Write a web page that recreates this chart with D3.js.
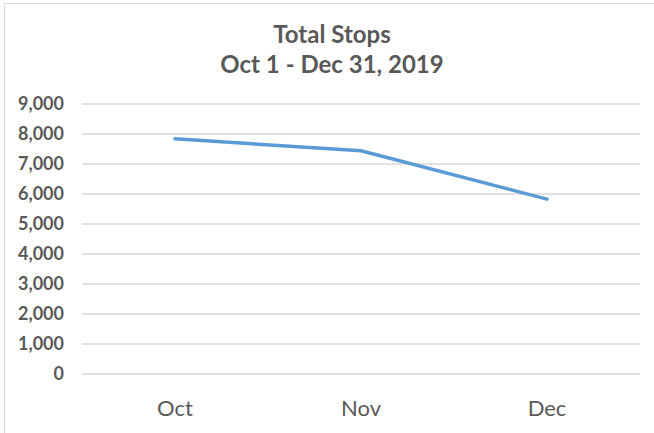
<!DOCTYPE html>
<html>
<head>
<meta charset="utf-8">
<script src="https://cdn.jsdelivr.net/npm/d3@7"></script>
<style>
  body { margin: 0; background: #fff; }
  svg { font-family: Lato, "Open Sans", sans-serif; }
</style>
</head>
<body>
<div id="chart"></div>
<script>
    const width = 654, height = 433;

    // data
    const months = ["Oct", "Nov", "Dec"];
    const stops = [7840, 7440, 5830];
    const yTicks = [0, 1000, 2000, 3000, 4000, 5000, 6000, 7000, 8000, 9000];
    const titleLines = ["Total Stops", "Oct 1 - Dec 31, 2019"];

    let svg = d3.select("#chart").append("svg")
        .attr("width", width)
        .attr("height", height);

    // chart frame (only top and left edges show in the picture)
    svg.append("path")
        .attr("d", "M4.5,433V3.5H654")
        .attr("fill", "none")
        .attr("stroke", "#d9d9d9");

    let x = d3.scaleBand()
        .domain(months)
        .range([82, 640]);

    let y = d3.scaleLinear()
        .domain([0, 9000])
        .range([374, 104]);

    // gridlines
    svg.append("g")
        .selectAll("line")
        .data(yTicks)
        .enter()
        .append("line")
        .attr("x1", 82).attr("x2", 640)
        .attr("y1", d => y(d)).attr("y2", d => y(d))
        .attr("stroke", "#d9d9d9")
        .attr("stroke-width", 1.3);

    // y axis labels
    let yAxis = svg.append("g")
        .attr("transform", "translate(70,0)")
        .call(d3.axisLeft(y).tickValues(yTicks).tickFormat(d3.format(",")).tickSize(0).tickPadding(6));
    yAxis.select(".domain").remove();
    yAxis.selectAll("text")
        .attr("fill", "#595959")
        .attr("font-size", 18)
        .attr("font-weight", "bold")
        .attr("font-family", "Lato, sans-serif");

    // x axis labels
    let xAxis = svg.append("g")
        .attr("transform", "translate(0,400)")
        .call(d3.axisBottom(x).tickSize(0).tickPadding(0));
    xAxis.select(".domain").remove();
    xAxis.selectAll("text")
        .attr("fill", "#595959")
        .attr("font-size", 22)
        .attr("font-family", "Lato, sans-serif");

    // line
    let line = d3.line()
        .x((d, i) => x(months[i]) + x.bandwidth() / 2)
        .y(d => y(d));

    svg.append("path")
        .datum(stops)
        .attr("d", line)
        .attr("fill", "none")
        .attr("stroke", "#5b9bd5")
        .attr("stroke-width", 3.5)
        .attr("stroke-linecap", "round")
        .attr("stroke-linejoin", "round");

    // title
    svg.append("g")
        .selectAll("text")
        .data(titleLines)
        .enter()
        .append("text")
        .attr("x", 332)
        .attr("y", (d, i) => 43 + i * 30)
        .attr("text-anchor", "middle")
        .attr("fill", "#595959")
        .attr("font-size", 24)
        .attr("font-weight", "bold")
        .text(d => d);
</script>
</body>
</html>
